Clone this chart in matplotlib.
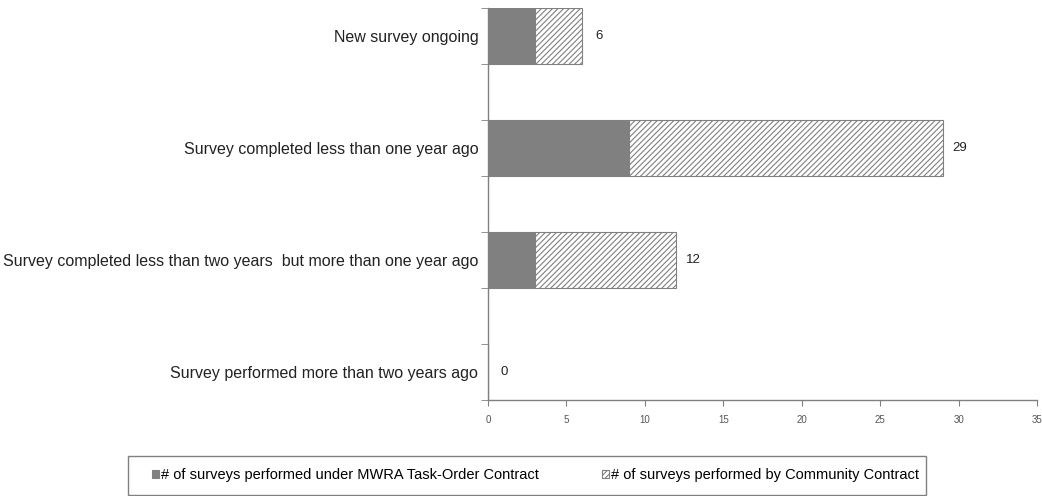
import matplotlib
matplotlib.use("Agg")
import matplotlib.pyplot as plt
import matplotlib.patches as mpatches
import numpy as np

categories = [
    "New survey ongoing",
    "Survey completed less than one year ago",
    "Survey completed less than two years  but more than one year ago",
    "Survey performed more than two years ago",
]
mwra = [3, 9, 3, 0]
community = [3, 20, 9, 0]
totals = [6, 29, 12, 0]
series_labels = [
    "# of surveys performed under MWRA Task-Order Contract",
    "# of surveys performed by Community Contract",
]
xticks = [0, 5, 10, 15, 20, 25, 30, 35]

plt.rcParams['font.family'] = ['Liberation Sans', 'DejaVu Sans']
plt.rcParams['hatch.color'] = '#8a8a8a'
plt.rcParams['hatch.linewidth'] = 0.8

fig = plt.figure(figsize=(10.42, 4.96), dpi=100)
ax = fig.add_axes([488/1042, 1 - 400/496, (1037-488)/1042, 392/496])

n = len(categories)
ypos = np.arange(n)[::-1].astype(float)
b1 = ax.barh(ypos, mwra, height=0.5, color='#808080', edgecolor='#808080',
             linewidth=0.8, label=series_labels[0])
b2 = ax.barh(ypos, community, left=mwra, height=0.5, color='white',
             edgecolor='#808080', hatch='//////', linewidth=0.8,
             label=series_labels[1])

for y, t in zip(ypos, totals):
    ax.annotate(str(t), xy=(t, y), xytext=(12, 0), textcoords='offset points',
                va='center', ha='center', fontsize=9.5, color='#222222')

ax.set_xlim(0, 35)
ax.set_ylim(-0.25, n - 0.75)
ax.set_xticks(xticks)
ax.set_xticklabels([str(v) for v in xticks])
ax.set_yticks(ypos)
ax.set_yticklabels(categories, fontsize=11.5)
ax.set_yticks(np.arange(-0.25, n - 0.5, 0.5), minor=True)
ax.tick_params(axis='y', which='major', length=0, pad=7, labelcolor='#222222')
ax.tick_params(axis='y', which='minor', length=5, color='#808080', direction='out')
ax.tick_params(axis='x', length=4, color='#808080', labelsize=7,
               labelcolor='#555555', pad=7, direction='out')
for s in ['top', 'right']:
    ax.spines[s].set_visible(False)
for s in ['left', 'bottom']:
    ax.spines[s].set_color('#808080')
    ax.spines[s].set_linewidth(1.0)

# legend frame
rect = mpatches.Rectangle((128/1042, 1.5/496), (926-128)/1042, (494-455)/496,
                          transform=fig.transFigure, fill=False,
                          edgecolor='#808080', linewidth=1.0)
fig.add_artist(rect)

legy = 1 - 475/496
common = dict(fontsize=10.5, frameon=False, handlelength=0.45, handleheight=0.45,
              handletextpad=0.2, borderpad=0, borderaxespad=0, loc='center left')
fig.legend([b1], [series_labels[0]], bbox_to_anchor=(152/1042, legy), **common)
fig.legend([b2], [series_labels[1]], bbox_to_anchor=(602/1042, legy), **common)

fig.savefig("out.png", dpi=100)
